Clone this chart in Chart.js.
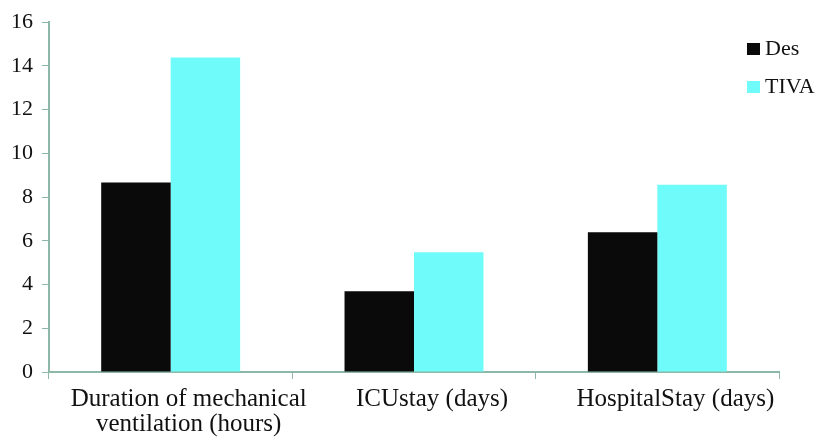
<!DOCTYPE html>
<html>
<head>
<meta charset="utf-8">
<script src="https://cdn.jsdelivr.net/npm/chart.js@4/dist/chart.umd.min.js"></script>
<style>
    html, body { margin: 0; padding: 0; background: #fff; }
    #wrap { width: 825px; height: 447px; }
</style>
</head>
<body>
<div id="wrap"><canvas id="chart"></canvas></div>
<script>
// Data
const categories = [
    ['Duration of mechanical', 'ventilation (hours)'],
    'ICUstay (days)',
    'HospitalStay (days)'
];
const desValues = [8.67, 3.69, 6.39];
const tivaValues = [14.39, 5.48, 8.56];
const yTicks = [0, 2, 4, 6, 8, 10, 12, 14, 16];

const axisColor = '#8db8a8';
const fontFamily = '"Liberation Serif", "DejaVu Serif", serif';

// Legend in de rechterbovenhoek
const cornerLegend = {
    id: 'cornerLegend',
    afterDraw(chart) {
        const ctx = chart.ctx;
        ctx.save();
        ctx.font = '22px ' + fontFamily;
        ctx.textBaseline = 'alphabetic';
        ctx.textAlign = 'left';
        chart.data.datasets.forEach((ds, i) => {
            const y = 55 + i * 38;
            ctx.fillStyle = ds.backgroundColor;
            ctx.fillRect(747, y - 12, 13, 12);
            ctx.fillStyle = '#111';
            ctx.fillText(ds.label, 765, y);
        });
        ctx.restore();
    }
};

new Chart(document.getElementById('chart'), {
    type: 'bar',
    data: {
        labels: categories,
        datasets: [
            {
                label: 'Des',
                data: desValues,
                backgroundColor: '#0a0a0a'
            },
            {
                label: 'TIVA',
                data: tivaValues,
                backgroundColor: '#70fbfb'
            }
        ]
    },
    options: {
        responsive: true,
        maintainAspectRatio: false,
        animation: false,
        layout: { padding: { top: 21, right: 46, left: 0, bottom: 0 } },
        plugins: {
            legend: { display: false },
            tooltip: { enabled: false }
        },
        datasets: {
            bar: { categoryPercentage: 0.571, barPercentage: 1.0 }
        },
        scales: {
            x: {
                grid: {
                    drawOnChartArea: false,
                    drawTicks: true,
                    tickLength: 7,
                    color: axisColor,
                    offset: true
                },
                border: { color: axisColor, width: 2 },
                ticks: {
                    color: '#111',
                    font: { family: fontFamily, size: 25, lineHeight: 1.0 },
                    padding: 8,
                    labelOffset: 18,
                    maxRotation: 0,
                    autoSkip: false
                },
                afterFit(scale) { scale.height = 75; }
            },
            y: {
                min: 0,
                max: 16,
                afterBuildTicks(scale) {
                    scale.ticks = yTicks.map((v) => ({ value: v }));
                },
                grid: {
                    drawOnChartArea: false,
                    drawTicks: true,
                    tickLength: 7,
                    color: axisColor
                },
                border: { color: axisColor, width: 2 },
                ticks: {
                    color: '#111',
                    font: { family: fontFamily, size: 22 },
                    padding: 9
                },
                afterFit(scale) { scale.width = 49; }
            }
        }
    },
    plugins: [cornerLegend]
});
</script>
</body>
</html>
